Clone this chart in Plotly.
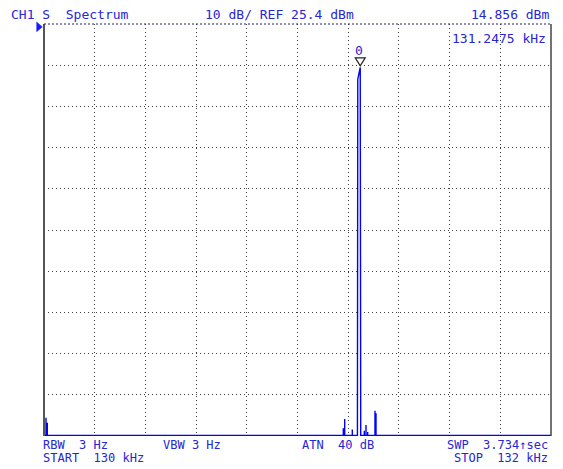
import plotly.graph_objects as go

# ---- data ----
start_khz = 130.0
stop_khz = 132.0
ref_dbm = 25.4
db_per_div = 10
floor_dbm = -74.45

spike_freq_khz = [130.0079, 130.0130, 131.1807, 131.1862, 131.2162,
                  131.2635, 131.2702, 131.2769, 131.2927, 131.3057, 131.3097]
spike_level_dbm = [-70.2, -71.4, -72.7, -70.5, -73.0,
                   -73.3, -71.9, -73.6, -74.3, -68.5, -69.1]

main_freq_khz = [131.2364, 131.2378, 131.2475, 131.2494]
main_level_dbm = [floor_dbm, 12.0, 14.856, floor_dbm]

marker_freq_khz = 131.2475
marker_level_dbm = 14.856

header_left = "CH1 S  Spectrum"
header_mid = "10 dB/ REF 25.4 dBm"
header_right = "14.856 dBm"
marker_label = "131.2475 kHz"
footer_texts = ["RBW  3 Hz", "VBW 3 Hz", "ATN  40 dB", "SWP  3.734\u2191sec",
                "START  130 kHz", "STOP  132 kHz"]

# ---- build polyline from data ----
xs = [start_khz]
ys = [floor_dbm]
events = sorted([(f, [(f, floor_dbm), (f, l), (f, floor_dbm)]) for f, l in zip(spike_freq_khz, spike_level_dbm)]
                + [(main_freq_khz[0], list(zip(main_freq_khz, main_level_dbm)))], key=lambda e: e[0])
for _, seg in events:
    for f, l in seg:
        xs.append(f)
        ys.append(l)
xs.append(stop_khz)
ys.append(floor_dbm)

W, H = 563, 469
L, R, T, B = 44, 551, 24, 436
TXT = "#2626d4"
FONT = "DejaVu Sans Mono"


def px(x):
    return (x - L) / (R - L)


def py(y):
    return (B - y) / (B - T)


def nb(s):
    return s.replace(" ", "\u00a0")


fig = go.Figure()
fig.add_trace(go.Scatter(x=xs, y=ys, mode="lines",
                         line=dict(color="#0000ff", width=1.4),
                         hoverinfo="skip", showlegend=False))

fig.update_layout(
    width=W, height=H, autosize=False,
    margin=dict(l=L, r=W - R, t=T, b=H - B, pad=0),
    paper_bgcolor="white", plot_bgcolor="white",
    showlegend=False,
    xaxis=dict(range=[start_khz, stop_khz], dtick=(stop_khz - start_khz) / 10, tick0=start_khz,
               showgrid=True, gridcolor="#404040", gridwidth=1, griddash="1px,3px",
               showticklabels=False, ticks="", zeroline=False, showline=False, fixedrange=True),
    yaxis=dict(range=[ref_dbm - 10 * db_per_div, ref_dbm], dtick=db_per_div, tick0=ref_dbm,
               showgrid=True, gridcolor="#404040", gridwidth=1, griddash="1px,3px",
               showticklabels=False, ticks="", zeroline=False, showline=False, fixedrange=True),
)

shapes = [
    dict(type="line", xref="paper", yref="paper", x0=0, x1=0, y0=0, y1=1,
         line=dict(color="#555555", width=2)),
    dict(type="line", xref="paper", yref="paper", x0=1, x1=1, y0=0, y1=1,
         line=dict(color="#444444", width=1.5)),
    dict(type="line", xref="paper", yref="paper", x0=0, x1=1, y0=1, y1=1,
         line=dict(color="#202080", width=1, dash="2px,2px")),
    # reference-level pointer
    dict(type="path", xref="paper", yref="paper", xsizemode="pixel", ysizemode="pixel",
         xanchor=0, yanchor=1, path="M -7.3,2 L -7.3,-7.7 L -1.7,-2.9 Z",
         fillcolor="#1a1aff", line=dict(color="#1a1aff", width=0.5)),
    # marker triangle
    dict(type="path", xref="x", yref="y", xsizemode="pixel", ysizemode="pixel",
         xanchor=marker_freq_khz, yanchor=marker_level_dbm,
         path="M -5,9.5 L 5,9.5 L 0,1.5 Z",
         fillcolor="rgba(0,0,0,0)", line=dict(color="#222222", width=1.2)),
]
fig.update_layout(shapes=shapes)

ann = []


def add_text(text, x, y, anchor="left", size=13):
    ann.append(dict(text=nb(text), xref="paper", yref="paper", x=px(x), y=py(y),
                    xanchor=anchor, yanchor="middle", showarrow=False,
                    font=dict(family=FONT, size=size, color=TXT), borderpad=0))


add_text(header_left, 10, 14)
add_text(header_mid, 204, 14)
add_text(header_right, 550, 14, "right")
add_text(marker_label, 547, 39, "right")
FS = 12
add_text(footer_texts[0], 42, 444.5, size=FS)
add_text(footer_texts[1], 162, 444.5, size=FS)
add_text(footer_texts[2], 300.5, 444.5, size=FS)
add_text(footer_texts[3], 549, 444.5, "right", size=FS)
add_text(footer_texts[4], 42, 458.5, size=FS)
add_text(footer_texts[5], 549, 458.5, "right", size=FS)

ann.append(dict(text="0", xref="x", yref="y", x=marker_freq_khz, y=marker_level_dbm,
                yshift=16.7, xshift=-1, xanchor="center", yanchor="middle", showarrow=False,
                font=dict(family=FONT, size=13, color=TXT), borderpad=0))
fig.update_layout(annotations=ann)

fig.write_html("out.html", config={"displayModeBar": False},
               post_script="document.body.style.margin='0';document.body.style.padding='0';")
